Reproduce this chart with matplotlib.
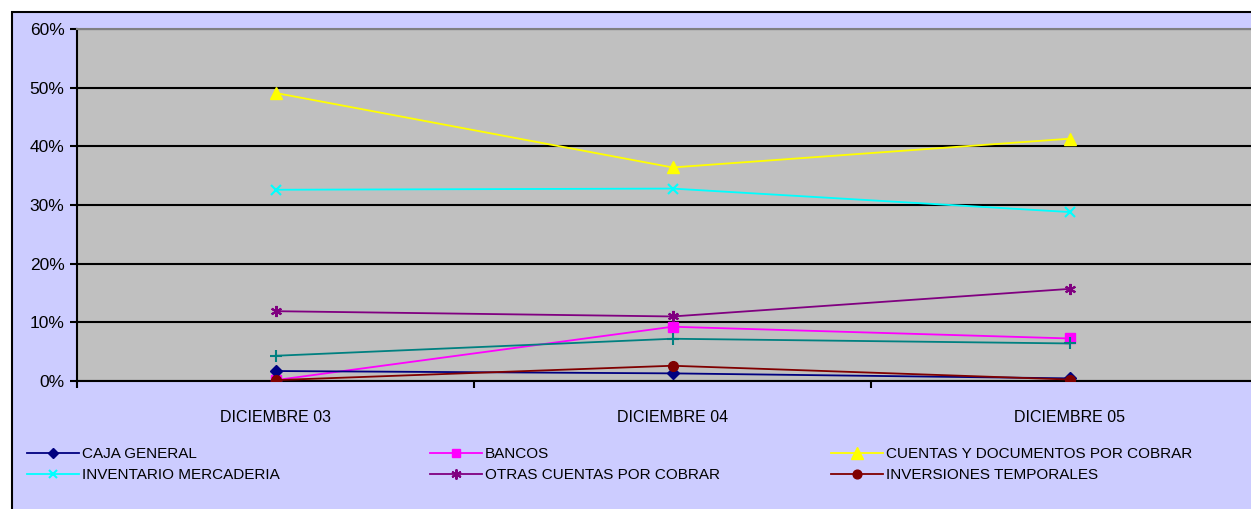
import matplotlib.pyplot as plt
from matplotlib.patches import Rectangle

plt.rcParams['font.family'] = ['Liberation Sans', 'DejaVu Sans']

# Data (percent)
categories = ['DICIEMBRE 03', 'DICIEMBRE 04', 'DICIEMBRE 05']
caja_general = [1.7, 1.3, 0.45]
bancos = [0.15, 9.25, 7.25]
cuentas_cobrar = [49.1, 36.4, 41.3]
inventario = [32.6, 32.8, 28.8]
otras_cuentas = [11.9, 11.0, 15.7]
inversiones = [0.15, 2.6, 0.25]
otros = [4.3, 7.2, 6.4]  # series whose legend entry is cut off in the original

W, H = 1251, 509
fig = plt.figure(figsize=(W / 100, H / 100), dpi=100)
fig.patch.set_facecolor('white')

# Chart area (lavender box with black border, cut by the image edges)
fig.patches.append(Rectangle((12 / W, -0.1), 1.2, (H - 12) / H + 0.1,
                             transform=fig.transFigure, facecolor='#CCCCFF',
                             edgecolor='black', linewidth=1.5, zorder=-10))

# Plot area
ax = fig.add_axes([77 / W, (H - 381) / H, 1191 / W, 352 / H])
ax.set_facecolor('#C0C0C0')

x = range(len(categories))
ax.plot(x, caja_general, color='#000080', marker='D', markersize=6, lw=1.3, label='CAJA GENERAL', zorder=5)
ax.plot(x, bancos, color='#FF00FF', marker='s', markersize=7, lw=1.3, label='BANCOS', zorder=4)
ax.plot(x, cuentas_cobrar, color='#FFFF00', marker='^', markersize=9, lw=1.3,
        label='CUENTAS Y DOCUMENTOS POR COBRAR', zorder=4)
ax.plot(x, inventario, color='#00FFFF', marker='x', markersize=7, mew=1.5, lw=1.3,
        label='INVENTARIO MERCADERIA', zorder=4)
ax.plot(x, otras_cuentas, color='#800080', marker=(6, 2, 0), markersize=8, mew=1.5, lw=1.3,
        label='OTRAS CUENTAS POR COBRAR', zorder=4)
ax.plot(x, inversiones, color='#800000', marker='o', markersize=7, lw=1.3,
        label='INVERSIONES TEMPORALES', zorder=6)
ax.plot(x, otros, color='#008080', marker='+', markersize=8, mew=1.5, lw=1.3,
        label='_nolegend_', zorder=4)

ax.set_xlim(-0.5, 2.5)
ax.set_ylim(0, 60)
ax.set_yticks(range(0, 61, 10))
ax.set_yticklabels([f'{v}%' for v in range(0, 61, 10)], fontsize=12.5)
ax.yaxis.grid(True, color='black', linewidth=1.5)
ax.set_axisbelow(True)

ax.set_xticks(list(x))
ax.set_xticklabels(categories, fontsize=11.5)
ax.set_xticks([-0.5, 0.5, 1.5, 2.5], minor=True)
ax.tick_params(axis='x', which='major', length=0, pad=21)
ax.tick_params(axis='x', which='minor', length=5, width=1.5, direction='out')
ax.tick_params(axis='y', length=5, width=1.5, pad=4)

for side in ['left', 'bottom']:
    ax.spines[side].set_linewidth(1.5)
ax.spines['top'].set_color('#808080')
ax.spines['top'].set_linewidth(1.5)
ax.spines['right'].set_visible(False)

# Legend laid out in three columns
handles, labels = ax.get_legend_handles_labels()
col_x = [27, 430, 831]
for i, cx in enumerate(col_x):
    hs = [handles[i], handles[i + 3]]
    ls = [labels[i], labels[i + 3]]
    fig.legend(hs, ls, loc='upper left', bbox_to_anchor=(cx / W, (H - 447) / H),
               frameon=False, fontsize=11, handlelength=3.4, handletextpad=0.2,
               labelspacing=0.45, borderpad=0, borderaxespad=0, markerscale=0.9)

fig.savefig('out.png', dpi=100)
